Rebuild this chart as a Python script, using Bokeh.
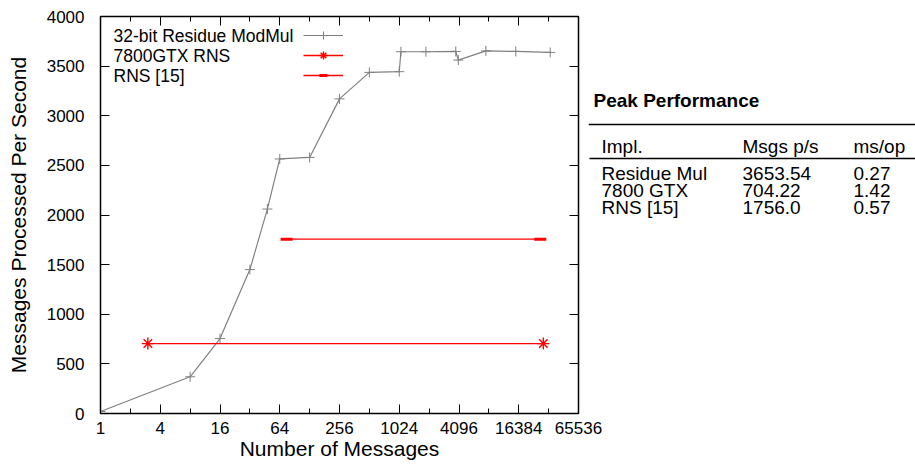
from bokeh.plotting import figure
from bokeh.models import Range1d, FixedTicker, LinearAxis, Legend, LegendItem, Label
from bokeh.layouts import row
from bokeh.embed import file_html
from bokeh.resources import INLINE
from bokeh.core.properties import value

FONT = "Liberation Sans"

# ---------------- data ----------------
series_names = ["32-bit Residue ModMul", "7800GTX RNS", "RNS [15]"]

residue_x = [1, 8, 16, 32, 48, 64, 128, 256, 512, 1024, 1064, 1900, 3800, 4030, 7640, 15290, 34000]
residue_y = [20, 370, 755, 1450, 2060, 2565, 2580, 3170, 3437, 3444, 3645, 3645, 3648, 3561, 3653.54, 3648, 3638]

gtx_x = [3, 29000]
gtx_y = [704.22, 704.22]

rns_x = [75, 27000]
rns_y = [1756.0, 1756.0]

x_ticks = [1, 4, 16, 64, 256, 1024, 4096, 16384, 65536]
x_tick_labels = ["1", "4", "16", "64", "256", "1024", "4096", "16384", "65536"]
x_minor_ticks = [2, 8, 32, 128, 512, 2048, 8192, 32768]
y_ticks = [0, 500, 1000, 1500, 2000, 2500, 3000, 3500, 4000]
y_tick_labels = ["0", "500", "1000", "1500", "2000", "2500", "3000", "3500", "4000"]

x_title = "Number of Messages"
y_title = "Messages Processed Per Second"

table_title = "Peak Performance"
table_headers = ["Impl.", "Msgs p/s", "ms/op"]
table_impl = ["Residue Mul", "7800 GTX", "RNS [15]"]
table_msgs = ["3653.54", "704.22", "1756.0"]
table_msop = ["0.27", "1.42", "0.57"]

# ---------------- chart ----------------
p = figure(width=612, height=465, x_axis_type="log",
           x_range=Range1d(1, 65536), y_range=Range1d(0, 4000),
           output_backend="svg", toolbar_location=None,
           min_border_left=100, min_border_right=34,
           min_border_top=16, min_border_bottom=52)
p.grid.visible = False
p.outline_line_color = "black"
p.outline_line_width = 1.5
p.background_fill_color = "white"
p.border_fill_color = "white"


def style_ticks(ax):
    ax.axis_line_color = None
    ax.major_tick_in = 9
    ax.major_tick_out = 0
    ax.minor_tick_in = 5
    ax.minor_tick_out = 0
    ax.major_tick_line_color = "black"
    ax.minor_tick_line_color = "black"
    ax.major_tick_line_width = 1
    ax.minor_tick_line_width = 1


xa = p.xaxis[0]
xa.ticker = FixedTicker(ticks=x_ticks, minor_ticks=x_minor_ticks)
xa.major_label_overrides = dict(zip(x_ticks, x_tick_labels))
style_ticks(xa)
xa.major_label_text_font = FONT
xa.major_label_text_font_size = "17px"
xa.major_label_text_color = "black"
xa.major_label_standoff = 8
xa.axis_label = x_title
xa.axis_label_text_font = FONT
xa.axis_label_text_font_size = "21px"
xa.axis_label_text_font_style = "normal"
xa.axis_label_text_color = "black"
xa.axis_label_standoff = 0

ya = p.yaxis[0]
ya.ticker = FixedTicker(ticks=y_ticks, minor_ticks=[])
ya.major_label_overrides = dict(zip(y_ticks, y_tick_labels))
style_ticks(ya)
ya.major_label_text_font = FONT
ya.major_label_text_font_size = "17px"
ya.major_label_text_color = "black"
ya.major_label_standoff = 16
ya.axis_label = y_title
ya.axis_label_text_font = FONT
ya.axis_label_text_font_size = "21px"
ya.axis_label_text_font_style = "normal"
ya.axis_label_text_color = "black"
ya.axis_label_standoff = 14

# mirrored ticks (top / right)
top = LinearAxis(ticker=FixedTicker(ticks=x_ticks, minor_ticks=x_minor_ticks))
right = LinearAxis(ticker=FixedTicker(ticks=y_ticks, minor_ticks=[]))
for ax in (top, right):
    style_ticks(ax)
    ax.major_label_text_font_size = "0px"
    ax.major_label_standoff = 0
top.major_label_overrides = {t: "" for t in x_ticks}
right.major_label_overrides = {t: "" for t in y_ticks}
p.add_layout(top, "above")
p.add_layout(right, "right")

r1l = p.line(residue_x, residue_y, line_color="#808080", line_width=1.2)
r1m = p.scatter(residue_x, residue_y, marker="cross", size=10,
                line_color="#808080", line_width=1)
r2l = p.line(gtx_x, gtx_y, line_color="#ff0000", line_width=1.3)
r2m = p.scatter(gtx_x, gtx_y, marker="asterisk", size=12,
                line_color="#ff0000", line_width=1.4)
r3l = p.line(rns_x, rns_y, line_color="#ff0000", line_width=1.3)
r3m = p.scatter(rns_x, rns_y, marker="dash", size=12,
                line_color="#ff0000", line_width=3)

# gnuplot-style key: text on the left, samples on the right
legend = Legend(
    items=[LegendItem(label=" ", renderers=[r1l, r1m]),
           LegendItem(label=" ", renderers=[r2l, r2m]),
           LegendItem(label=" ", renderers=[r3l, r3m])],
    location=(203, 328), orientation="vertical",
    glyph_width=40, glyph_height=20, label_height=20,
    label_standoff=0, spacing=0, padding=0, margin=0,
    border_line_color=None, background_fill_alpha=0,
    label_text_font=FONT, label_text_font_size="17.5px")
p.add_layout(legend)
for i, name in enumerate(series_names):
    p.add_layout(Label(x=113, y=35 + 20 * i, x_units="canvas", y_units="canvas",
                       text=name, text_font=FONT, text_font_size="17.5px",
                       text_baseline="middle", text_align="left",
                       text_color="black"))

# ---------------- table ----------------
t = figure(width=327, height=465, x_range=Range1d(0, 327), y_range=Range1d(413, 16),
           output_backend="svg", toolbar_location=None,
           min_border_left=0, min_border_right=0,
           min_border_top=16, min_border_bottom=52,
           x_axis_location=None, y_axis_location=None,
           background_fill_color=None, border_fill_color=None,
           outline_line_color=None)
t.grid.visible = False
t.margin = (0, 0, 0, -24)

col_x = [13, 154, 265]
header_y = 146
row_y0 = 173
row_step = 17

t.text(x=[5], y=[100], text=[table_title], text_font=value(FONT),
       text_font_style="bold", text_font_size="19px",
       text_baseline="middle", text_align="left", text_color="black")
t.segment(x0=[0, 1], y0=[124, 158], x1=[327, 327], y1=[124, 158],
          line_color="black", line_width=1.6)
t.text(x=col_x, y=[header_y] * 3, text=table_headers, text_font=value(FONT),
       text_font_size="19px", text_baseline="middle", text_align="left",
       text_color="black")
for ci, col in enumerate([table_impl, table_msgs, table_msop]):
    t.text(x=[col_x[ci]] * len(col),
           y=[row_y0 + i * row_step for i in range(len(col))],
           text=col, text_font=value(FONT), text_font_size="19px",
           text_baseline="middle", text_align="left", text_color="black")

layout = row(p, t)
open("out.html", "w").write(file_html(layout, INLINE))
